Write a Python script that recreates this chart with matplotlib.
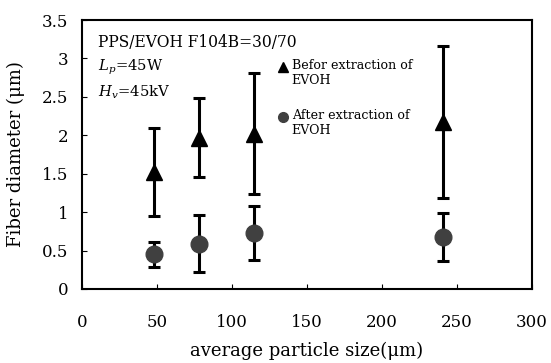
import numpy as np
import matplotlib.pyplot as plt

# average particle size (um)
particle_size = [48, 78, 115, 241]

# fiber diameter before / after extraction of EVOH (um)
before_mean = [1.52, 1.97, 2.02, 2.17]
before_err = [0.57, 0.51, 0.79, 0.99]
after_mean = [0.45, 0.59, 0.73, 0.68]
after_err = [0.16, 0.37, 0.35, 0.31]

y_ticks = [0, 0.5, 1, 1.5, 2, 2.5, 3, 3.5]
y_tick_labels = ["0", "0.5", "1", "1.5", "2", "2.5", "3", "3.5"]
x_ticks = [0, 50, 100, 150, 200, 250, 300]

legend_labels = ["Befor extraction of\nEVOH", "After extraction of\nEVOH"]
notes = ["PPS/EVOH F104B=30/70", r"$L_p$=45W", r"$H_v$=45kV"]

plt.rcParams['font.family'] = ['DejaVu Serif']
plt.rcParams['mathtext.fontset'] = 'dejavuserif'

fig = plt.figure(figsize=(5.51, 3.63), dpi=100)
ax = fig.add_axes([0.1488, 0.2039, 0.8167, 0.741])

ax.errorbar(particle_size, before_mean, yerr=before_err, fmt='^', color='black',
            markersize=12, ecolor='black', elinewidth=2.2, capsize=4, capthick=2.2)
ax.errorbar(particle_size, after_mean, yerr=after_err, fmt='o', color='#404040',
            markersize=12, ecolor='black', elinewidth=2.2, capsize=4, capthick=2.2)

ax.set_xlim(0, 300)
ax.set_ylim(0, 3.5)
ax.set_xticks(x_ticks)
ax.set_yticks(y_ticks)
ax.set_yticklabels(y_tick_labels)
ax.tick_params(direction='in', labelsize=12)
ax.tick_params(axis='x', pad=18)
ax.tick_params(axis='y', pad=10)
for s in ax.spines.values():
    s.set_linewidth(1.5)

ax.set_xlabel("average particle size(\u03bcm)", fontsize=13, labelpad=8)
ax.set_ylabel("Fiber diameter (\u03bcm)", fontsize=13, labelpad=12)

note_sizes = [11.2, 10.6, 10.6]
for i, (t, fs) in enumerate(zip(notes, note_sizes)):
    ax.text(0.036, 0.918 - i * 0.093, t, transform=ax.transAxes, fontsize=fs, va='center')

# legend drawn by hand so the marker sits on the first line of each label
leg_markers = ['^', 'o']
leg_colors = ['black', '#404040']
leg_y = [0.827, 0.641]
for m, c, yy, lab in zip(leg_markers, leg_colors, leg_y, legend_labels):
    ax.plot([0.446], [yy], marker=m, color=c, markersize=7, linestyle='none',
            transform=ax.transAxes, clip_on=False)
    ax.text(0.466, yy + 0.029, lab, transform=ax.transAxes, fontsize=9.1,
            va='top', ha='left', linespacing=1.2)

fig.savefig("out.png", dpi=100)
